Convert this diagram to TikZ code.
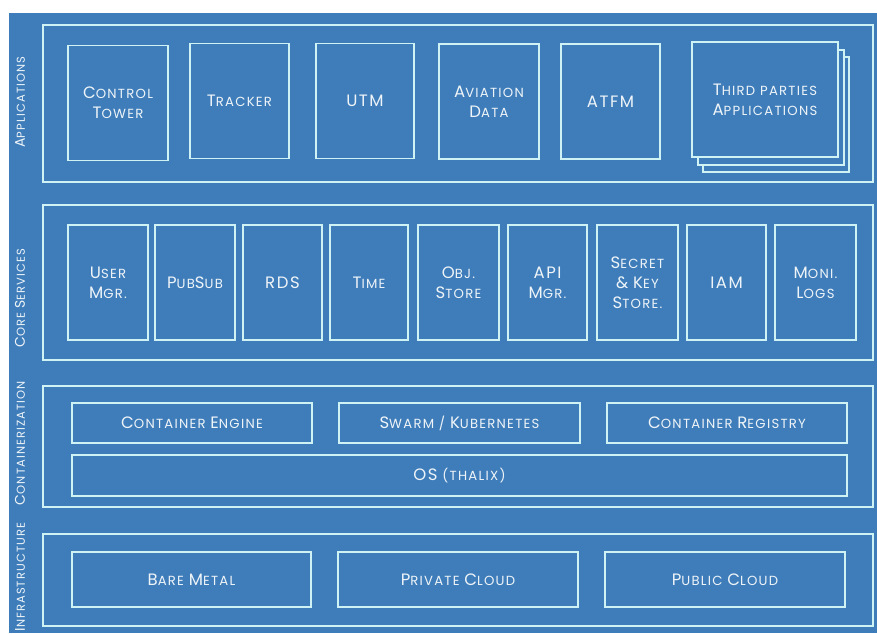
\documentclass[tikz,border=0pt]{standalone}
\usepackage{fontspec}
\setmainfont{Poppins}[LetterSpace=9.5]
\definecolor{bg}{HTML}{3F7DBA}
\definecolor{lc}{HTML}{CFF3F4}
\definecolor{tc}{HTML}{EEF4F8}
\newcommand\Bg[1]{{\fontsize{16.5}{20}\selectfont #1}}
\newcommand\LB[1]{{\fontsize{14}{16}\selectfont #1}}
\tikzset{
  frame/.style={draw=lc, line width=1.5pt, rectangle, inner sep=0pt},
  box/.style={frame, text=tc, align=center, font=\fontsize{13.2}{20}\selectfont},
  stackbox/.style={frame, fill=bg},
  side/.style={rotate=90, text=tc, inner sep=0pt, font=\fontsize{11.5}{14}\selectfont}
}
\begin{document}
\begin{tikzpicture}[x=1pt,y=-1pt]
\useasboundingbox (0,0) rectangle (877,633);
\fill[white] (0,0) rectangle (877,633);
\fill[bg] (9,13) rectangle (877,633);

% layer frames
\node[frame, minimum width=830pt, minimum height=157pt] (apps) at (458,103.5) {};
\node[frame, minimum width=830pt, minimum height=155pt] (core) at (458,282.5) {};
\node[frame, minimum width=830pt, minimum height=121pt] (cont) at (458,446.5) {};
\node[frame, minimum width=830pt, minimum height=92pt] (infra) at (458,580) {};

% side labels
\node[side] (lapps) at (20,102) {\LB{A}PPLICATIONS};
\node[side] (lcore) at (20,298) {\LB{C}ORE \LB{S}ERVICES};
\node[side] (lcont) at (20,443) {\LB{C}ONTAINERIZATION};
\node[side] (linfra) at (20,577) {\LB{I}NFRASTRUCTURE};

% applications
\node[box, minimum width=100pt, minimum height=115pt] (ct) at (118,103) {\Bg{C}ONTROL\\\Bg{T}OWER};
\node[box, minimum width=99pt, minimum height=115pt] (tracker) at (239.5,101) {\Bg{T}RACKER};
\node[box, minimum width=98pt, minimum height=115pt] (utm) at (365,101) {\Bg{UTM}};
\node[box, minimum width=100pt, minimum height=115pt] (avd) at (489,101.5) {\Bg{A}VIATION\\\Bg{D}ATA};
\node[box, minimum width=99pt, minimum height=115pt] (atfm) at (610.5,101.5) {\Bg{ATFM}};
\node[stackbox, minimum width=146pt, minimum height=115pt] (tp3) at (776,114.5) {};
\node[stackbox, minimum width=146pt, minimum height=115pt] (tp2) at (771,107.5) {};
\node[box, fill=bg, minimum width=146pt, minimum height=115pt] (tp) at (765,99.5) {\Bg{T}HIRD PARTIES\\\Bg{A}PPLICATIONS};

% core services
\node[box, minimum width=80pt, minimum height=115pt] (user) at (108,282.5) {\Bg{U}SER\\\Bg{M}GR.};
\node[box, minimum width=80pt, minimum height=115pt] (pubsub) at (195,282.5) {\Bg{P}UB\Bg{S}UB};
\node[box, minimum width=79pt, minimum height=115pt] (rds) at (282.5,282.5) {\Bg{RDS}};
\node[box, minimum width=78pt, minimum height=115pt] (time) at (369,282.5) {\Bg{T}IME};
\node[box, minimum width=81pt, minimum height=115pt] (obj) at (458.5,282.5) {\Bg{O}BJ.\\\Bg{S}TORE};
\node[box, minimum width=79pt, minimum height=115pt] (api) at (547.5,282.5) {\Bg{API}\\\Bg{M}GR.};
\node[box, minimum width=81pt, minimum height=115pt] (secret) at (637.5,282.5) {\Bg{S}ECRET\\\Bg{\&} \Bg{K}EY\\\Bg{S}TORE.};
\node[box, minimum width=79pt, minimum height=115pt] (iam) at (726.5,282.5) {\Bg{IAM}};
\node[box, minimum width=81pt, minimum height=115pt] (moni) at (815.5,282.5) {\Bg{M}ONI.\\\Bg{L}OGS};

% containerization
\node[box, minimum width=240pt, minimum height=40pt] (engine) at (192,423) {\Bg{C}ONTAINER \Bg{E}NGINE};
\node[box, minimum width=241pt, minimum height=40pt] (swarm) at (459.5,423) {\Bg{S}WARM / \Bg{K}UBERNETES};
\node[box, minimum width=240pt, minimum height=40pt] (registry) at (727,423) {\Bg{C}ONTAINER \Bg{R}EGISTRY};
\node[box, minimum width=775pt, minimum height=41pt] (os) at (459.5,475.5) {\Bg{OS} (THALIX)};

% infrastructure
\node[box, minimum width=239pt, minimum height=55pt] (bare) at (191.5,579.5) {\Bg{B}ARE \Bg{M}ETAL};
\node[box, minimum width=240pt, minimum height=55pt] (private) at (458,579.5) {\Bg{P}RIVATE \Bg{C}LOUD};
\node[box, minimum width=240pt, minimum height=55pt] (public) at (725,579.5) {\Bg{P}UBLIC \Bg{C}LOUD};
\end{tikzpicture}
\end{document}
